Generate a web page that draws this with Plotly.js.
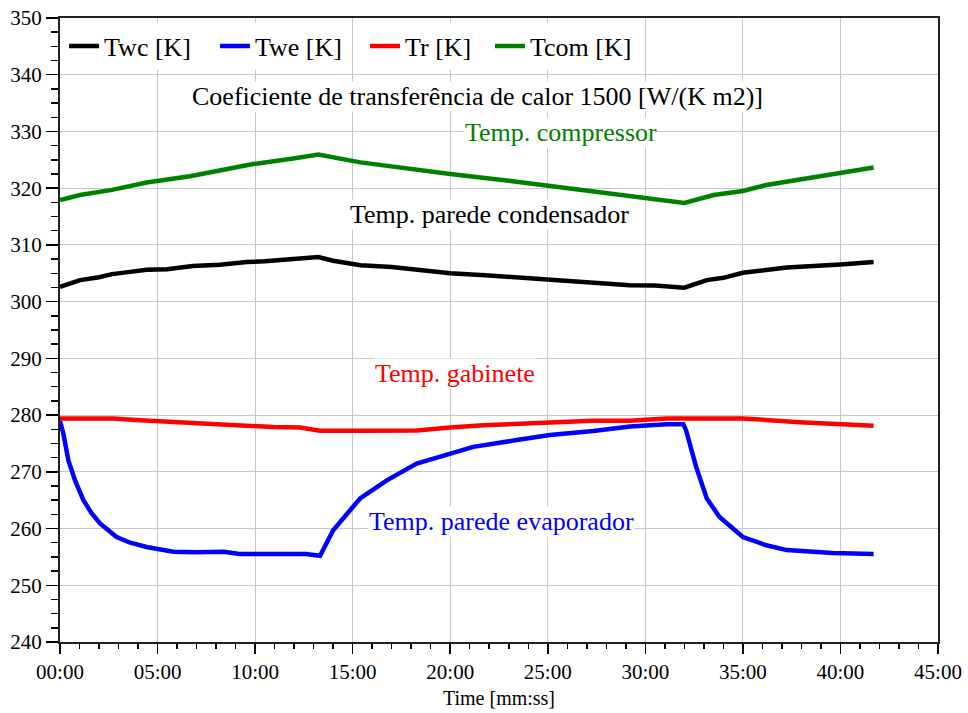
<!DOCTYPE html>
<html>
<head>
<meta charset="utf-8">
<script src="https://cdn.plot.ly/plotly-3.0.1.min.js"></script>
<style>
  html, body { margin: 0; padding: 0; background: #fff; }
  #chart { width: 968px; height: 713px; }
</style>
</head>
<body>
<div id="chart"></div>
<script>
// Time in minutes, temperatures in kelvin
const twcTime = [0, 0.5, 1.03, 2.0, 2.67, 3.5, 4.44, 5.5, 6.8, 8.2, 9.57, 10.5, 11.8, 13.24, 14.0, 15.4, 17.0, 18.5, 20.0, 22.0, 24.0, 26.65, 29.2, 30.5, 32.0, 33.15, 34.0, 35.0, 37.25, 40.0, 41.7];
const twcValues = [302.6, 303.1, 303.8, 304.3, 304.85, 305.2, 305.6, 305.7, 306.3, 306.5, 307.0, 307.1, 307.55, 307.85, 307.2, 306.4, 306.1, 305.6, 305.0, 304.6, 304.1, 303.5, 302.9, 302.85, 302.45, 303.8, 304.2, 305.1, 306.0, 306.55, 307.0];

const tweTime = [0, 0.17, 0.43, 0.77, 1.2, 1.6, 2.05, 2.9, 3.6, 4.44, 5.8, 7.0, 8.4, 9.2, 11.0, 12.6, 13.33, 14.0, 15.38, 16.75, 18.28, 19.99, 21.18, 23.41, 25.11, 27.33, 29.22, 31.1, 31.95, 32.09, 32.6, 33.15, 33.8, 35.0, 36.2, 37.25, 39.6, 41.7];
const tweValues = [279.0, 276.75, 272.0, 268.5, 265.0, 262.8, 260.9, 258.5, 257.5, 256.75, 255.9, 255.8, 255.9, 255.5, 255.5, 255.5, 255.2, 259.7, 265.3, 268.5, 271.45, 273.2, 274.4, 275.6, 276.5, 277.2, 278.0, 278.4, 278.4, 277.3, 270.9, 265.3, 262.05, 258.5, 257.05, 256.2, 255.7, 255.5];

const trTime = [0, 2.7, 4.1, 5.8, 8.2, 10.9, 12.3, 13.33, 15.4, 18.28, 20.0, 21.7, 24.5, 27.3, 29.2, 31.1, 35.0, 36.5, 37.9, 41.7];
const trValues = [279.4, 279.4, 279.1, 278.8, 278.3, 277.9, 277.8, 277.25, 277.25, 277.3, 277.8, 278.2, 278.6, 279.0, 279.0, 279.4, 279.4, 279.0, 278.75, 278.1];

const tcomTime = [0, 1.03, 2.67, 4.44, 6.66, 9.9, 11.96, 13.24, 15.4, 18.0, 20.0, 23.0, 26.65, 28.9, 30.07, 32.0, 33.5, 35.0, 36.2, 38.0, 40.0, 41.7];
const tcomValues = [317.9, 318.8, 319.7, 321.0, 322.1, 324.25, 325.25, 325.95, 324.55, 323.3, 322.5, 321.3, 319.7, 318.7, 318.2, 317.4, 318.8, 319.5, 320.55, 321.5, 322.6, 323.65];

const seriesNames = ['Twc [K]', 'Twe [K]', 'Tr [K]', 'Tcom [K]'];
const seriesColors = ['#000000', '#0000ff', '#ff0000', '#008000'];

const timeTicks = [0, 5, 10, 15, 20, 25, 30, 35, 40, 45];
const timeTickLabels = ['00:00', '05:00', '10:00', '15:00', '20:00', '25:00', '30:00', '35:00', '40:00', '45:00'];

const FONT = 'Liberation Serif';

const xs = [twcTime, tweTime, trTime, tcomTime];
const ys = [twcValues, tweValues, trValues, tcomValues];

// each series gets its own legend box so the entries can sit in fixed columns
const legendIds = ['legend', 'legend2', 'legend3', 'legend4'];
const legendX = [0.0046, 0.1765, 0.3474, 0.4897];

const traces = seriesNames.map((name, i) => ({
  type: 'scatter',
  mode: 'lines',
  name: name,
  x: xs[i],
  y: ys[i],
  legend: legendIds[i],
  line: { color: seriesColors[i], width: 4.5 }
}));

function label(text, x, y, color) {
  return {
    text: text, x: x, y: y, xref: 'x', yref: 'y',
    showarrow: false, bgcolor: '#ffffff', borderpad: 0,
    font: { family: FONT, size: 26, color: color },
    xanchor: 'center', yanchor: 'middle'
  };
}

const layout = {
  width: 968,
  height: 713,
  paper_bgcolor: '#ffffff',
  plot_bgcolor: '#ffffff',
  margin: { l: 60, r: 30, t: 18, b: 71 },
  font: { family: FONT, size: 21, color: '#000' },
  showlegend: true,
  xaxis: {
    range: [0, 45],
    tickmode: 'array',
    tickvals: timeTicks,
    ticktext: timeTickLabels,
    ticks: 'outside', ticklen: 10, tickwidth: 1.5, tickcolor: '#000',
    showline: true, linecolor: '#222', linewidth: 2, mirror: true,
    showgrid: true, gridcolor: '#c8c8c8', gridwidth: 1,
    zeroline: false,
    tickfont: { family: FONT, size: 21, color: '#000' },
    minor: { dtick: 1, ticks: 'outside', ticklen: 5, tickwidth: 1.5, tickcolor: '#000', showgrid: false },
    title: { text: 'Time [mm:ss]', font: { family: FONT, size: 20, color: '#000' }, standoff: 8 }
  },
  yaxis: {
    range: [240, 350],
    tickmode: 'linear', tick0: 240, dtick: 10,
    ticks: 'outside', ticklen: 12, tickwidth: 1.5, tickcolor: '#000',
    showline: true, linecolor: '#222', linewidth: 2, mirror: true,
    showgrid: true, gridcolor: '#c8c8c8', gridwidth: 1,
    zeroline: false,
    tickfont: { family: FONT, size: 21, color: '#000' },
    minor: { dtick: 2.5, ticks: 'outside', ticklen: 7, tickwidth: 1.5, tickcolor: '#000', showgrid: false }
  },
  annotations: [
    label('Coeficiente de transferência de calor 1500 [W/(K m2)]', 21.4, 336.2, '#000000'),
    label('Temp. compressor', 25.7, 329.9, '#008000'),
    label('Temp. parede condensador', 22.0, 315.3, '#000000'),
    label('Temp. gabinete', 20.25, 287.4, '#ff0000'),
    label('Temp. parede evaporador', 22.65, 261.3, '#0000ff')
  ]
};

legendIds.forEach((id, i) => {
  layout[id] = {
    x: legendX[i], y: 0.955, xanchor: 'left', yanchor: 'middle',
    bgcolor: '#ffffff', borderwidth: 0,
    font: { family: FONT, size: 26, color: '#000' },
    itemwidth: 30
  };
});

Plotly.newPlot('chart', traces, layout, { displayModeBar: false, staticPlot: true });
</script>
</body>
</html>
